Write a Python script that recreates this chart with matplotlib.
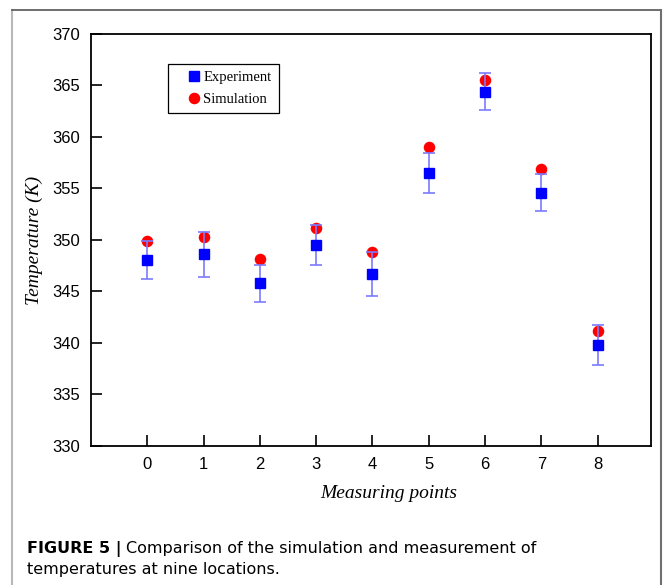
import matplotlib
matplotlib.use("Agg")
import matplotlib.pyplot as plt
from matplotlib.lines import Line2D

# Дані: точки вимірювання, експеримент, симуляція, похибки
points = [0, 1, 2, 3, 4, 5, 6, 7, 8]
experiment = [348.1, 348.6, 345.8, 349.5, 346.7, 356.5, 364.4, 354.6, 339.8]
simulation = [349.9, 350.3, 348.2, 351.2, 348.8, 359.0, 365.5, 356.9, 341.2]
errors = [1.85, 2.2, 1.8, 1.95, 2.1, 1.95, 1.8, 1.8, 1.9]
y_ticks = [330, 335, 340, 345, 350, 355, 360, 365, 370]

W, H = 664, 585
fig = plt.figure(figsize=(W / 100, H / 100), dpi=100)
ax = fig.add_axes([91 / W, 139 / H, 560 / W, 412 / H])

# Симуляція знизу, потім похибки, потім квадрати експерименту
ax.plot(points, simulation, 'o', color='#ff0000', markersize=7.3,
        linestyle='none', zorder=2, label='Simulation')
ax.errorbar(points, experiment, yerr=errors, fmt='none', ecolor='#7a7aff',
            elinewidth=1.2, capsize=4.5, capthick=1.2, zorder=3)
ax.plot(points, experiment, 's', color='#0000ff', markersize=6.6,
        linestyle='none', zorder=4, label='Experiment')

ax.set_xlim(-1, 8.95)
ax.set_ylim(330, 370)
ax.set_xticks(points)
ax.set_yticks(y_ticks)
ax.tick_params(direction='in', length=8, width=1.2, labelsize=12, pad=8)
for lab in ax.get_xticklabels() + ax.get_yticklabels():
    lab.set_family('Liberation Sans')
for sp in ax.spines.values():
    sp.set_linewidth(1.3)

ax.set_xlabel('Measuring points', family='Liberation Serif', style='italic', fontsize=14)
ax.xaxis.set_label_coords((389 - 91) / 560, -0.0947)
ax.set_ylabel('Temperature (K)', family='Liberation Serif', style='italic', fontsize=14)
ax.yaxis.set_label_coords(-0.0866, 0.5)

handles, labels = ax.get_legend_handles_labels()
leg = ax.legend(handles[::-1], labels[::-1], loc='upper left',
                bbox_to_anchor=((167.5 - 91) / 560, (446 - 64) / 412),
                prop={'family': 'Liberation Serif', 'size': 10.5},
                fancybox=False, edgecolor='black', framealpha=1,
                handlelength=2.6, handletextpad=-0.65, borderpad=0.5,
                labelspacing=0.55, borderaxespad=0)
leg.get_frame().set_linewidth(0.9)

# Рамка навколо рисунка
fig.add_artist(Line2D([12 / W, 12 / W], [0, 1 - 10 / H], color='#b8b8b8', lw=1.5))
fig.add_artist(Line2D([12 / W, 661 / W], [1 - 10 / H, 1 - 10 / H], color='#555555', lw=1.2))
fig.add_artist(Line2D([661 / W, 661 / W], [0, 1 - 10 / H], color='#707070', lw=1.5))

# Підпис
cap_size = 11.5
t1 = fig.text(27 / W, 1 - 553 / H, 'FIGURE 5 |', family='DejaVu Sans',
              weight='bold', fontsize=cap_size, va='baseline')
fig.canvas.draw()
bb = t1.get_window_extent(fig.canvas.get_renderer())
fig.text((bb.x1 + 4) / W, 1 - 553 / H,
         'Comparison of the simulation and measurement of',
         family='DejaVu Sans', fontsize=cap_size, va='baseline')
fig.text(27 / W, 1 - 574 / H, 'temperatures at nine locations.',
         family='DejaVu Sans', fontsize=cap_size, va='baseline')

fig.savefig('out.png', dpi=100)
